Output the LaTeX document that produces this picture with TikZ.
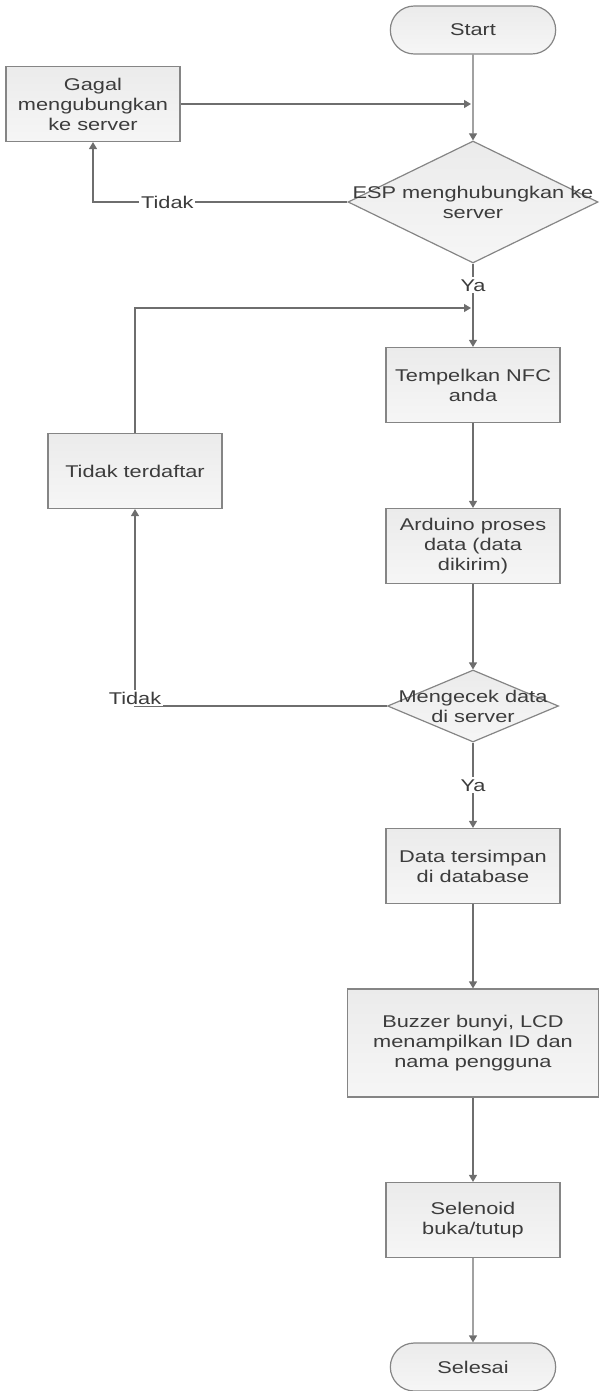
\documentclass[tikz,border=0pt]{standalone}
\usepackage{fontspec}
\setmainfont{Liberation Sans}[FakeStretch=1.28]
\usetikzlibrary{arrows.meta,shapes.geometric,shapes.misc}
\definecolor{linec}{HTML}{6E6E6E}
\definecolor{edge}{HTML}{858585}
\definecolor{ink}{HTML}{3C3C3C}
\definecolor{boxtop}{HTML}{EBEBEB}
\definecolor{boxbot}{HTML}{F6F6F6}
\tikzset{
  every node/.style={text=ink, font=\fontsize{17}{20}\selectfont},
  proc/.style={draw=edge, line width=1.2pt, top color=boxtop, bottom color=boxbot, minimum width=174pt, minimum height=75pt, align=center, inner sep=2pt},
  term/.style={rounded rectangle, draw=edge, line width=1.2pt, top color=boxtop, bottom color=boxbot, minimum width=172pt, minimum height=48pt},
  decision/.style={diamond, draw=edge, line width=1.2pt, top color=boxtop, bottom color=boxbot, inner sep=0pt},
  flow/.style={draw=linec, line width=1.2pt, -{Triangle[width=8pt,length=7pt]}},
  lbl/.style={fill=white, inner sep=2pt},
}

\begin{document}
\begin{tikzpicture}[x=1pt,y=-1pt]
  \useasboundingbox (0,0) rectangle (605,1391);
  % blocks, pixel grid of the sheet
  \node[term] (start) at (473,30) {Start};
  \node[proc] (gagal) at (93,104) {Gagal\\mengubungkan\\ke server};
  \node[decision, minimum width=250pt, minimum height=122pt,
        label={[align=center]center:{ESP menghubungkan ke\\server}}] (esp) at (473,202) {};
  \node[proc] (tempel) at (473,385) {Tempelkan NFC\\anda};
  \node[proc] (terdaftar) at (135,471) {Tidak terdaftar};
  \node[proc] (arduino) at (473,546) {Arduino proses\\data (data\\dikirim)};
  \node[decision, minimum width=171pt, minimum height=72pt,
        label={[align=center]center:{Mengecek data\\di server}}] (cek) at (473,706) {};
  \node[proc] (data) at (473,866) {Data tersimpan\\di database};
  \node[proc, minimum width=251pt, minimum height=108pt] (buzzer) at (473,1043) {Buzzer bunyi, LCD\\menampilkan ID dan\\nama pengguna};
  \node[proc] (selenoid) at (473,1220) {Selenoid\\buka/tutup};
  \node[term] (selesai) at (473,1367) {Selesai};

  \coordinate (j1) at (start |- gagal.east);
  \coordinate (j2) at (473,308);

  \draw[flow] (start) -- (esp);
  \draw[flow, shorten >=2pt] (gagal.east) -- (j1);
  \draw[flow] (esp.west) -| node[lbl, pos=0.354] {Tidak} (gagal.south);
  \draw[flow] (esp.south) -- node[lbl, pos=0.26] {Ya} (tempel.north);
  \draw[flow, shorten >=2pt] (terdaftar.north) |- (j2);
  \draw[flow] (tempel) -- (arduino);
  \draw[flow] (arduino) -- (cek);
  \draw[flow] (cek.west) -| node[lbl, pos=0.5, yshift=8pt] {Tidak} (terdaftar.south);
  \draw[flow] (cek.south) -- node[lbl] {Ya} (data.north);
  \draw[flow] (data) -- (buzzer);
  \draw[flow] (buzzer) -- (selenoid);
  \draw[flow] (selenoid) -- (selesai);
\end{tikzpicture}
\end{document}
